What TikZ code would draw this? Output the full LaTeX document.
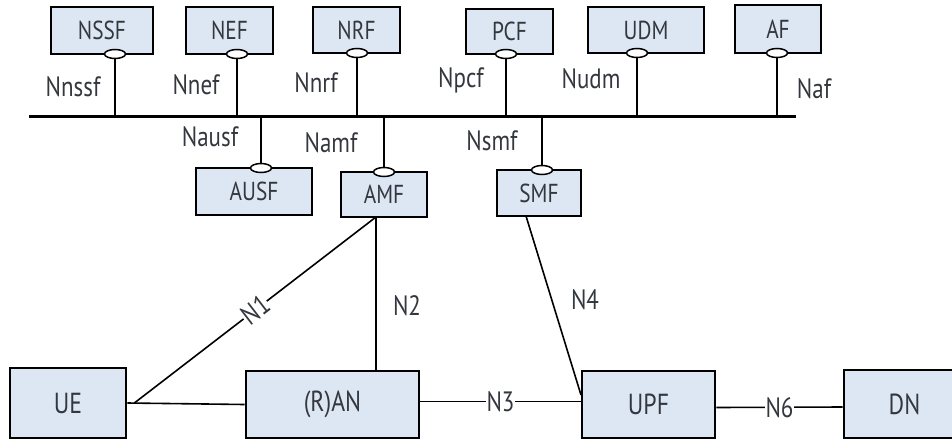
\documentclass[tikz,border=0pt]{standalone}
\usepackage{fontspec}
\setmainfont{PT Sans}[FakeStretch=0.82]
\usepackage{tikz}
\usetikzlibrary{shapes.geometric}
\definecolor{nfblue}{RGB}{220,231,243}
\definecolor{ink}{RGB}{52,55,62}
\newcommand{\drawbus}{\draw[line width=3pt]}
\newcommand{\drawlink}{\draw[line width=2pt]}
\newcommand{\drawref}{\draw[line width=1.6pt]}
\newcommand{\nfbox}[6]{\node[nf, minimum width=#4pt, minimum height=#5pt] (#1) at (#2,#3) {#6};}
\tikzset{
  nf/.style={draw, line width=2.7pt, fill=nfblue, text=ink, inner sep=0pt},
  port/.style={ellipse, draw, line width=1.5pt, fill=white, minimum width=21pt, minimum height=9pt, inner sep=0pt},
  iface/.style={text=ink, font=\fontsize{28}{30}\selectfont, inner sep=0.5pt},
  cut/.style={iface, fill=white, midway}
}

\begin{document}
\begin{tikzpicture}[x=1pt, y=-1pt]
\useasboundingbox (0,0) rectangle (952,439);
\begin{scope}[every node/.append style={font=\fontsize{26}{28}\selectfont}]
\nfbox{nssf}{102}{30.5}{102}{47}{NSSF}
\nfbox{nef}{229.5}{30.5}{87}{47}{NEF}
\nfbox{nrf}{356.5}{30}{87}{46}{NRF}
\nfbox{pcf}{509.5}{31.5}{87}{45}{PCF}
\nfbox{udm}{646}{30}{116}{46}{UDM}
\nfbox{af}{778}{29}{86}{48}{AF}
\nfbox{ausf}{254}{191.5}{116}{47}{AUSF}
\nfbox{amf}{384}{194.5}{86}{45}{AMF}
\nfbox{smf}{539}{193}{84}{46}{SMF}
\end{scope}
\begin{scope}[every node/.append style={font=\fontsize{29}{31}\selectfont}]
\nfbox{ue}{68}{403}{116}{70}{UE}
\nfbox{ran}{332.5}{404.5}{173}{67}{(R)AN}
\nfbox{upf}{648.5}{404.5}{133}{67}{UPF}
\nfbox{dn}{904.5}{404}{121}{68}{DN}
\end{scope}
% service bus
\coordinate (bus-w) at (29,116);
\coordinate (bus-e) at (796,116);
\drawbus (bus-w) -- (bus-e);
% service-based interfaces
\foreach \nfn/\px/\py in {nssf/115/54, nef/237/54, nrf/357/53, pcf/506/54, udm/637/53, af/777/53}{
  \drawlink (\px,\py) -- (\px,116);
  \node[port] (\nfn-p) at (\px,\py) {};
}
\foreach \nfn/\px/\py in {ausf/261/168, amf/384/172, smf/542/170}{
  \drawlink (\px,116) -- (\px,\py);
  \node[port] (\nfn-p) at (\px,\py) {};
}
\node[iface] (l-nssf) at (73,87) {Nnssf};
\node[iface] (l-nef) at (196,85) {Nnef};
\node[iface] (l-nrf) at (316,83) {Nnrf};
\node[iface] (l-pcf) at (461,80) {Npcf};
\node[iface] (l-udm) at (591,79) {Nudm};
\node[iface] (l-af) at (814,89) {Naf};
\node[iface] (l-ausf) at (210,137) {Nausf};
\node[iface] (l-amf) at (331,143) {Namf};
\node[iface] (l-smf) at (492,141) {Nsmf};
% reference points
\coordinate (ue-j) at ([xshift=7pt]ue.east);
\coordinate (amf-j) at (376,217);
\coordinate (smf-j) at (526,216);
\coordinate (upf-j) at (581,395);
\drawref (ue.east) -- (ran.west);
\drawref (ue-j) -- node[cut, sloped] (l-n1) {N1} (amf-j);
\drawref (amf-j) -- (amf-j |- ran.north);
\node[iface] (l-n2) at (407,306) {N2};
\drawref (smf-j) -- (upf-j);
\node[iface] (l-n4) at (585,300) {N4};
\drawref ([yshift=3pt]ran.east) -- node[cut] (l-n3) {N3} ([yshift=3pt]upf.west);
\drawref ([yshift=-3pt]upf.east) -- node[cut] (l-n6) {N6} ([yshift=-3pt]dn.west);
\end{tikzpicture}
\end{document}
